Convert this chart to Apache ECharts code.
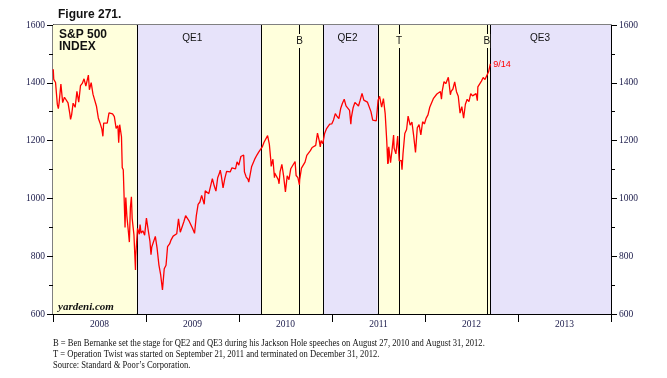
<!DOCTYPE html>
<html>
<head>
<meta charset="utf-8">
<script src="https://cdn.jsdelivr.net/npm/echarts@6/dist/echarts.min.js"></script>
<style>html,body{margin:0;padding:0;background:#fff;}#c{width:667px;height:378px;}</style>
</head>
<body>
<div id="c"></div>
<script>
// ---- DATA ----
const yearLabels = ['2008','2009','2010','2011','2012','2013'];
const yTicks = [600, 800, 1000, 1200, 1400, 1600];

const spx2008 = [['2008-01-02',1447.2],['2008-01-04',1411.6],['2008-01-11',1401.0],['2008-01-18',1325.2],['2008-01-22',1310.5],['2008-01-25',1330.6],['2008-02-01',1395.4],['2008-02-08',1331.3],['2008-02-15',1350.0],['2008-02-22',1353.1],['2008-02-29',1330.6],['2008-03-07',1293.4],['2008-03-10',1273.4],['2008-03-14',1288.1],['2008-03-20',1329.5],['2008-03-28',1315.2],['2008-04-04',1370.4],['2008-04-11',1332.8],['2008-04-18',1390.3],['2008-04-25',1397.8],['2008-05-02',1413.9],['2008-05-09',1388.3],['2008-05-19',1426.6],['2008-05-23',1375.9],['2008-05-30',1400.4],['2008-06-06',1360.7],['2008-06-13',1360.0],['2008-06-20',1317.9],['2008-06-27',1278.4],['2008-07-03',1262.9],['2008-07-11',1239.5],['2008-07-15',1214.9],['2008-07-18',1260.7],['2008-07-25',1257.8],['2008-08-01',1260.3],['2008-08-08',1296.3],['2008-08-15',1298.2],['2008-08-22',1292.2],['2008-08-29',1282.8],['2008-09-05',1242.3],['2008-09-12',1251.7],['2008-09-15',1192.7],['2008-09-19',1255.1],['2008-09-26',1213.3],['2008-09-29',1106.4],['2008-10-03',1099.2],['2008-10-10',899.2],['2008-10-13',1003.4],['2008-10-17',940.6],['2008-10-24',876.8],['2008-10-27',848.9],['2008-10-31',968.8],['2008-11-04',1005.8],['2008-11-07',931.0],['2008-11-14',873.3],['2008-11-20',752.4],['2008-11-21',800.0],['2008-11-28',896.2],['2008-12-05',876.1],['2008-12-08',909.7],['2008-12-12',879.7],['2008-12-19',887.9],['2008-12-26',872.8]];

const spx2009 = [['2009-01-02',931.8],['2009-01-06',934.7],['2009-01-09',890.4],['2009-01-16',850.1],['2009-01-20',805.2],['2009-01-23',832.0],['2009-01-30',825.9],['2009-02-06',868.6],['2009-02-09',869.9],['2009-02-13',826.8],['2009-02-20',770.1],['2009-02-27',735.1],['2009-03-06',683.4],['2009-03-09',676.5],['2009-03-13',756.6],['2009-03-20',768.5],['2009-03-26',832.9],['2009-04-03',842.5],['2009-04-09',856.6],['2009-04-17',869.6],['2009-04-24',866.2],['2009-05-01',877.5],['2009-05-08',929.2],['2009-05-15',882.9],['2009-05-22',887.0],['2009-05-29',919.1],['2009-06-05',940.1],['2009-06-12',946.2],['2009-06-19',921.2],['2009-06-26',918.9],['2009-07-02',896.4],['2009-07-10',879.1],['2009-07-17',940.4],['2009-07-24',979.3],['2009-07-31',987.5],['2009-08-07',1010.5],['2009-08-14',1004.1],['2009-08-17',979.7],['2009-08-21',1026.1],['2009-08-28',1028.9],['2009-09-04',1016.4],['2009-09-11',1042.7],['2009-09-18',1068.3],['2009-09-25',1044.4],['2009-10-02',1025.2],['2009-10-09',1071.5],['2009-10-16',1087.7],['2009-10-19',1097.9],['2009-10-23',1079.6],['2009-10-30',1036.2],['2009-11-06',1069.3],['2009-11-13',1093.5],['2009-11-20',1091.4],['2009-11-27',1091.5],['2009-12-04',1106.0],['2009-12-11',1106.4],['2009-12-18',1102.5],['2009-12-24',1126.5],['2009-12-31',1115.1]];

const spx2010 = [['2010-01-08',1145.0],['2010-01-19',1150.2],['2010-01-22',1091.8],['2010-01-29',1073.9],['2010-02-05',1066.2],['2010-02-08',1056.7],['2010-02-12',1075.5],['2010-02-19',1109.2],['2010-02-26',1104.5],['2010-03-05',1138.7],['2010-03-12',1150.0],['2010-03-19',1159.9],['2010-03-26',1166.6],['2010-04-02',1178.1],['2010-04-09',1194.4],['2010-04-16',1192.1],['2010-04-23',1217.3],['2010-04-30',1186.7],['2010-05-06',1128.2],['2010-05-07',1110.9],['2010-05-14',1135.7],['2010-05-20',1071.6],['2010-05-21',1087.7],['2010-05-28',1089.4],['2010-06-04',1064.9],['2010-06-07',1050.5],['2010-06-11',1091.6],['2010-06-18',1117.5],['2010-06-25',1076.8],['2010-07-02',1022.6],['2010-07-09',1078.0],['2010-07-16',1064.9],['2010-07-23',1102.7],['2010-07-30',1101.6],['2010-08-09',1127.8],['2010-08-13',1079.3],['2010-08-20',1071.7],['2010-08-26',1047.2],['2010-08-27',1064.6],['2010-09-03',1104.5],['2010-09-10',1109.6],['2010-09-17',1125.6],['2010-09-24',1148.7],['2010-10-01',1146.2],['2010-10-08',1165.2],['2010-10-15',1176.2],['2010-10-22',1183.1],['2010-10-29',1183.3],['2010-11-05',1225.9],['2010-11-12',1199.2],['2010-11-16',1178.3],['2010-11-19',1199.7],['2010-11-26',1189.4],['2010-12-03',1224.7],['2010-12-10',1240.4],['2010-12-17',1243.9],['2010-12-23',1256.8],['2010-12-31',1257.6]];

const spx2011 = [['2011-01-07',1271.5],['2011-01-14',1293.2],['2011-01-21',1283.4],['2011-01-28',1276.3],['2011-02-04',1310.9],['2011-02-11',1329.2],['2011-02-18',1343.0],['2011-02-25',1319.9],['2011-03-04',1321.2],['2011-03-11',1304.3],['2011-03-16',1256.9],['2011-03-18',1279.2],['2011-03-25',1313.8],['2011-04-01',1332.4],['2011-04-08',1328.2],['2011-04-15',1319.7],['2011-04-21',1337.4],['2011-04-29',1363.6],['2011-05-06',1340.2],['2011-05-13',1337.8],['2011-05-20',1333.3],['2011-05-27',1331.1],['2011-06-03',1300.2],['2011-06-10',1271.0],['2011-06-15',1265.4],['2011-06-17',1271.5],['2011-06-24',1268.5],['2011-07-01',1339.7],['2011-07-07',1353.2],['2011-07-15',1316.1],['2011-07-22',1345.0],['2011-07-29',1292.3],['2011-08-04',1200.1],['2011-08-05',1199.4],['2011-08-08',1119.5],['2011-08-09',1172.5],['2011-08-10',1120.8],['2011-08-12',1178.8],['2011-08-19',1123.5],['2011-08-26',1176.8],['2011-08-31',1218.9],['2011-09-02',1174.0],['2011-09-09',1154.2],['2011-09-16',1216.0],['2011-09-22',1129.6],['2011-09-23',1136.4],['2011-09-30',1131.4],['2011-10-03',1099.2],['2011-10-07',1155.5],['2011-10-14',1224.6],['2011-10-21',1238.3],['2011-10-27',1284.6],['2011-10-28',1285.1],['2011-11-04',1253.2],['2011-11-11',1263.9],['2011-11-18',1215.7],['2011-11-25',1158.7],['2011-12-02',1244.3],['2011-12-09',1255.2],['2011-12-16',1219.7],['2011-12-23',1265.3],['2011-12-30',1257.6]];

const spx2012 = [['2012-01-06',1277.8],['2012-01-13',1289.1],['2012-01-20',1315.4],['2012-01-27',1316.3],['2012-02-03',1344.9],['2012-02-10',1342.6],['2012-02-17',1361.2],['2012-02-24',1365.7],['2012-03-02',1369.6],['2012-03-06',1343.4],['2012-03-09',1370.9],['2012-03-16',1404.2],['2012-03-23',1397.1],['2012-04-02',1419.0],['2012-04-05',1398.1],['2012-04-10',1358.6],['2012-04-13',1370.3],['2012-04-20',1378.5],['2012-04-27',1403.4],['2012-05-04',1369.1],['2012-05-11',1353.4],['2012-05-18',1295.2],['2012-05-25',1317.8],['2012-06-01',1278.0],['2012-06-08',1325.7],['2012-06-15',1342.8],['2012-06-22',1335.0],['2012-06-29',1362.2],['2012-07-06',1354.7],['2012-07-13',1356.8],['2012-07-20',1362.7],['2012-07-25',1337.9],['2012-07-27',1386.0],['2012-08-03',1391.0],['2012-08-10',1405.9],['2012-08-17',1418.2],['2012-08-24',1411.1],['2012-08-31',1406.6],['2012-09-07',1437.9],['2012-09-14',1465.8]];

// Policy periods
const qePeriods = [['2008-11-25','2010-03-31'],['2010-11-26','2011-06-30'],['2012-09-13','2014-01-01']];
const calmPeriods = [['2008-01-01','2008-11-25'],['2010-03-31','2010-11-26'],['2011-06-30','2012-09-13']];
const boundaryDates = ['2008-11-25','2010-03-31','2010-08-27','2010-11-26','2011-06-30','2011-09-21','2012-08-31','2012-09-13'];
const periodLabels = [['QE1','2009-07-01'],['QE2','2011-03-03'],['QE3','2013-03-28']];
const eventLabels = [['B','2010-08-27'],['T','2011-09-21'],['B','2012-08-31']];
const lastLabel = '9/14';

const footnotes = [
  'B = Ben Bernanke set the stage for QE2 and QE3 during his Jackson Hole speeches on August 27, 2010 and August 31, 2012.',
  'T = Operation Twist was started on September 21, 2011 and terminated on December 31, 2012.',
  'Source: Standard & Poor\u2019s Corporation.'
];

// ---- CHART ----
const spx = spx2008.concat(spx2009, spx2010, spx2011, spx2012);
const QE_COLOR = '#E7E3FA';
const CALM_COLOR = '#FFFFDC';
const SERIF = '"Liberation Serif","Times New Roman",serif';
const SANS = '"Liberation Sans",Arial,sans-serif';

const chart = echarts.init(document.getElementById('c'), null, {renderer: 'canvas'});

const areas = [];
qePeriods.forEach(p => areas.push([{xAxis: p[0], itemStyle: {color: QE_COLOR}}, {xAxis: p[1]}]));
calmPeriods.forEach(p => areas.push([{xAxis: p[0], itemStyle: {color: CALM_COLOR}}, {xAxis: p[1]}]));

const yAxisBase = {
  type: 'value', min: yTicks[0], max: yTicks[yTicks.length - 1], interval: 200,
  splitLine: {show: false},
  axisLine: {show: true, lineStyle: {color: '#000', width: 1}},
  axisTick: {show: true, length: 6, lineStyle: {color: '#000'}},
  minorTick: {show: true, splitNumber: 2, length: 4, lineStyle: {color: '#000'}},
  axisLabel: {fontFamily: SERIF, fontSize: 9.5, color: '#1a1a4a', margin: 8, formatter: v => String(v)}
};

chart.setOption({
  animation: false,
  backgroundColor: '#fff',
  grid: {left: 53, right: 56, top: 25, bottom: 64, show: true, borderColor: '#000', borderWidth: 1, backgroundColor: 'transparent'},
  xAxis: [
    {type: 'time', min: '2008-01-01', max: '2014-01-01', show: false},
    {type: 'category', data: yearLabels, boundaryGap: true, position: 'bottom',
     axisLine: {show: true, lineStyle: {color: '#000', width: 1}},
     axisTick: {show: true, length: 8, interval: 0, lineStyle: {color: '#000'}},
     axisLabel: {fontFamily: SERIF, fontSize: 9.5, color: '#1a1a4a', margin: 5}}
  ],
  yAxis: [
    Object.assign({}, yAxisBase, {position: 'left'}),
    Object.assign({}, yAxisBase, {position: 'right'})
  ],
  series: [{
    type: 'line', xAxisIndex: 0, yAxisIndex: 0, data: spx, showSymbol: false, symbol: 'none',
    lineStyle: {color: '#FF0000', width: 1.3}, z: 5,
    endLabel: {show: true, formatter: lastLabel, color: '#FF0000', fontFamily: SANS, fontSize: 9, distance: 3, offset: [0, 1]},
    markArea: {silent: true, data: areas, z: 1},
    markLine: {silent: true, symbol: 'none', label: {show: false},
      lineStyle: {color: '#000', width: 1, type: 'solid'},
      data: boundaryDates.map(d => ({xAxis: d}))}
  }]
});

// ---- Text annotations anchored through the axes ----
const gfx = [];
periodLabels.forEach(l => {
  const x = chart.convertToPixel({xAxisIndex: 0}, l[1]);
  gfx.push({type: 'text', x: x, y: 38, z: 20, style: {text: l[0], font: '10px ' + SANS, fill: '#111', align: 'center', verticalAlign: 'middle'}});
});
eventLabels.forEach(l => {
  const x = chart.convertToPixel({xAxisIndex: 0}, l[1]);
  gfx.push({type: 'text', x: x, y: 41, z: 20, style: {text: l[0], font: '10px ' + SANS, fill: '#111', align: 'center', verticalAlign: 'middle', backgroundColor: CALM_COLOR, padding: [2, 0, 2, 0]}});
});
gfx.push({type: 'text', left: 58, top: 9, style: {text: 'Figure 271.', font: 'bold 12px ' + SANS, fill: '#111'}});
gfx.push({type: 'text', left: 59, top: 28, z: 20, style: {text: 'S&P 500\nINDEX', font: 'bold 12px ' + SANS, fill: '#111', lineHeight: 12.5}});
gfx.push({type: 'text', left: 58, top: 302, z: 20, style: {text: 'yardeni.com', font: 'italic bold 11px ' + SERIF, fill: '#111'}});
footnotes.forEach((t, i) => {
  gfx.push({type: 'text', x: 53, y: 338 + i * 11, scaleX: 0.9, style: {text: t, font: '9.5px ' + SERIF, fill: '#111'}});
});
chart.setOption({graphic: gfx});
</script>
</body>
</html>
